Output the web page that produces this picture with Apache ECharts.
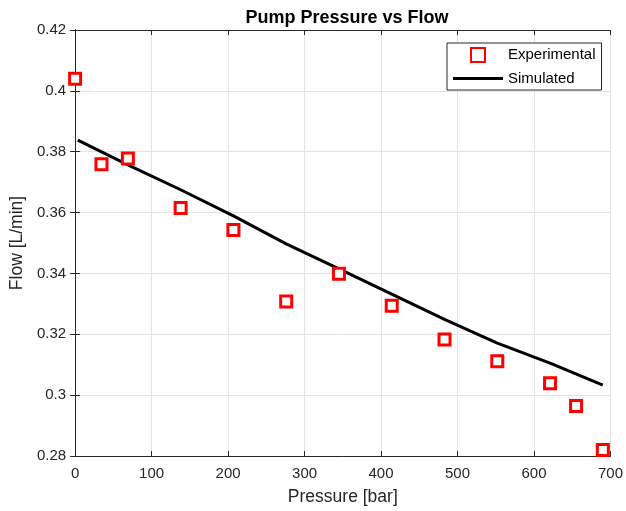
<!DOCTYPE html>
<html>
<head>
<meta charset="utf-8">
<script src="https://cdn.jsdelivr.net/npm/echarts@6/dist/echarts.min.js"></script>
<style>html,body{margin:0;padding:0;background:#fff}#c{width:626px;height:511px}</style>
</head>
<body>
<div id="c"></div>
<script>
var expPressure = [0, 34.5, 69, 138, 207, 276, 345, 414, 483, 552, 621, 655, 690];
var expFlow = [0.404, 0.3759, 0.3778, 0.3615, 0.3543, 0.3308, 0.3399, 0.3294, 0.3183, 0.3111, 0.3039, 0.2964, 0.282];
var simPressure = [3.5, 69, 138, 207, 276, 345, 414, 483, 552, 621, 690];
var simFlow = [0.3838, 0.3757, 0.3675, 0.3589, 0.3497, 0.3415, 0.3332, 0.3249, 0.3171, 0.3105, 0.3033];
var xTicks = [0, 100, 200, 300, 400, 500, 600, 700];
var yTicks = [0.28, 0.3, 0.32, 0.34, 0.36, 0.38, 0.4, 0.42];

var font = "'Liberation Sans', Arial, Helvetica, sans-serif";
var axisColor = '#262626';
var gridColor = '#e3e3e3';

var chart = echarts.init(document.getElementById('c'), null, {renderer: 'canvas'});
function fmtY(v) { return String(+(+v).toFixed(2)); }

var axisLine = {show: true, lineStyle: {color: axisColor, width: 1}};
var axisTick = {show: true, inside: true, length: 5, lineStyle: {color: axisColor}};

chart.setOption({
  animation: false,
  backgroundColor: '#fff',
  title: {
    text: 'Pump Pressure vs Flow',
    left: 342, top: 4, textAlign: 'center',
    textStyle: {fontFamily: font, fontSize: 18, fontWeight: 'bold', color: '#000'}
  },
  grid: {left: 72, right: 13, top: 30, bottom: 53, containLabel: false},
  legend: {
    orient: 'vertical',
    left: 447, top: 43,
    padding: [4, 6, 4, 6],
    itemWidth: 50, itemHeight: 14, itemGap: 8,
    backgroundColor: '#fff',
    borderColor: '#262626', borderWidth: 1, borderRadius: 0,
    symbolKeepAspect: true,
    textStyle: {fontFamily: font, fontSize: 15, color: '#000'},
    data: [
      {name: 'Experimental', icon: 'path://M0,0H10V10H0Z'},
      {name: 'Simulated', icon: 'path://M0,0H50V3H0Z', itemStyle: {color: '#000', borderWidth: 0}}
    ]
  },
  xAxis: [{
    type: 'value', min: xTicks[0], max: xTicks[xTicks.length - 1], interval: 100,
    name: 'Pressure [bar]', nameLocation: 'middle', nameGap: 32,
    nameTextStyle: {fontFamily: font, fontSize: 17.5, color: axisColor},
    axisLine: axisLine, axisTick: axisTick,
    axisLabel: {fontFamily: font, fontSize: 15, color: axisColor, margin: 10},
    splitLine: {show: true, lineStyle: {color: gridColor, width: 1}}
  }, {
    type: 'value', position: 'top', min: xTicks[0], max: xTicks[xTicks.length - 1], interval: 100,
    axisLine: axisLine, axisTick: axisTick,
    axisLabel: {show: false}, splitLine: {show: false}
  }],
  yAxis: [{
    type: 'value', min: yTicks[0], max: yTicks[yTicks.length - 1], interval: 0.02,
    name: 'Flow [L/min]', nameLocation: 'middle', nameGap: 47, nameRotate: 90,
    nameTextStyle: {fontFamily: font, fontSize: 17.5, color: axisColor},
    axisLine: axisLine, axisTick: axisTick,
    axisLabel: {fontFamily: font, fontSize: 15, color: axisColor, margin: 9, formatter: fmtY},
    splitLine: {show: true, lineStyle: {color: gridColor, width: 1}}
  }, {
    type: 'value', position: 'right', min: yTicks[0], max: yTicks[yTicks.length - 1], interval: 0.02,
    axisLine: axisLine, axisTick: axisTick,
    axisLabel: {show: false}, splitLine: {show: false}
  }],
  series: [{
    name: 'Simulated', type: 'line', xAxisIndex: 0, yAxisIndex: 0,
    data: simPressure.map(function (p, i) { return [p, simFlow[i]]; }),
    showSymbol: false, symbol: 'none',
    lineStyle: {color: '#000', width: 3},
    itemStyle: {color: '#000'},
    z: 2
  }, {
    name: 'Experimental', type: 'scatter', xAxisIndex: 0, yAxisIndex: 0,
    data: expPressure.map(function (p, i) { return [p, expFlow[i]]; }),
    symbol: 'rect', symbolSize: 11,
    itemStyle: {color: '#fff', borderColor: '#ff0000', borderWidth: 3, opacity: 1},
    clip: false,
    z: 3
  }]
});
</script>
</body>
</html>
